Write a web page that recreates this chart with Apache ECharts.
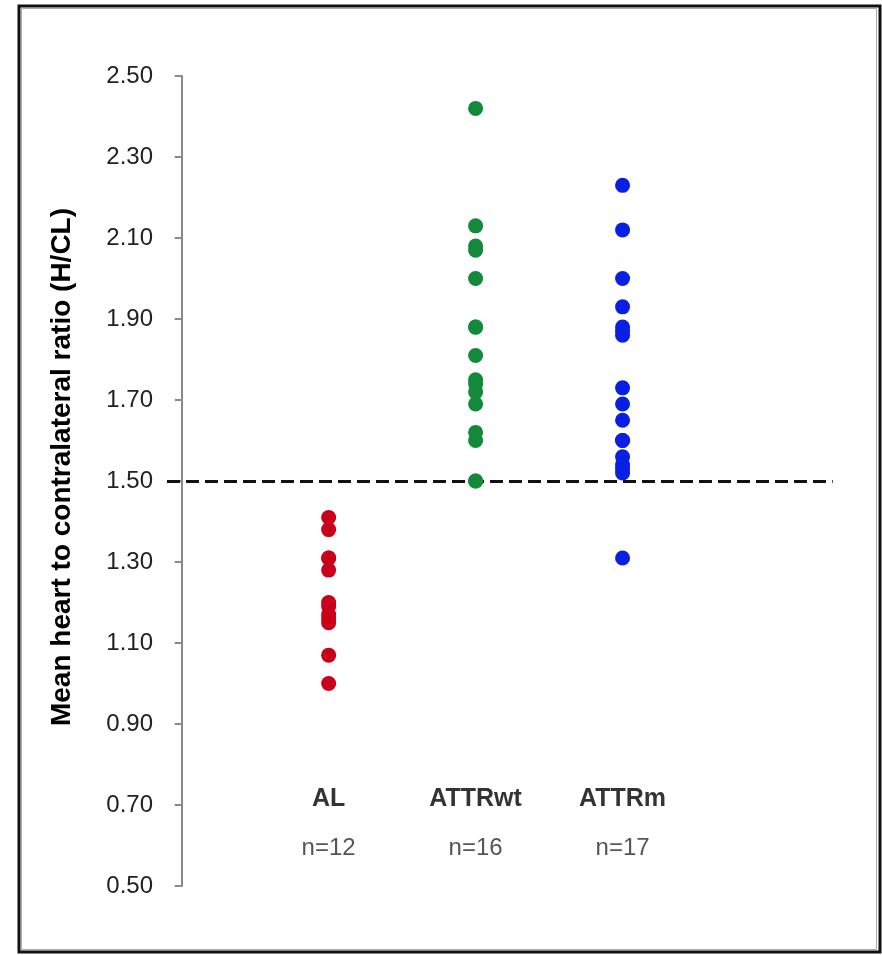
<!DOCTYPE html>
<html>
<head>
<meta charset="utf-8">
<script src="https://cdn.jsdelivr.net/npm/echarts@6/dist/echarts.min.js"></script>
<style>
  html, body { margin: 0; padding: 0; background: #fff; }
  #chart { width: 882px; height: 955px; }
</style>
</head>
<body>
<div id="chart"></div>
<script>
// Groups and their sample sizes
const categories = ['AL', 'ATTRwt', 'ATTRm'];
const sampleSizes = ['n=12', 'n=16', 'n=17'];

// Mean heart to contralateral ratio per patient
const alValues = [1.41, 1.38, 1.31, 1.31, 1.28, 1.20, 1.19, 1.17, 1.16, 1.15, 1.07, 1.00];
const attrwtValues = [2.42, 2.13, 2.08, 2.07, 2.00, 1.88, 1.88, 1.81, 1.75, 1.74, 1.72, 1.69, 1.62, 1.60, 1.50, 1.50];
const attrmValues = [2.23, 2.12, 2.00, 1.93, 1.88, 1.87, 1.86, 1.73, 1.69, 1.65, 1.60, 1.60, 1.56, 1.54, 1.53, 1.52, 1.31];

// Diagnostic cut-off
const threshold = 1.50;

// y-axis ticks
const yTicks = ['0.50', '0.70', '0.90', '1.10', '1.30', '1.50', '1.70', '1.90', '2.10', '2.30', '2.50'];

// Positions of the group names and counts in data units
const groupLabelY = 0.715;
const countLabelY = 0.592;

const groups = [alValues, attrwtValues, attrmValues];
const colors = ['#C8001A', '#14893C', '#0A1FE4'];
const font = 'Liberation Sans, Arial, sans-serif';

const chart = echarts.init(document.getElementById('chart'), null, { renderer: 'canvas' });

const pointSeries = groups.map((vals, i) => ({
  type: 'scatter',
  name: categories[i],
  symbol: 'circle',
  symbolSize: 15,
  itemStyle: { color: colors[i], opacity: 1 },
  z: 3,
  data: vals.map(v => [i + 1, v])
}));

const textSeries = [
  {
    type: 'scatter',
    symbolSize: 0,
    silent: true,
    data: categories.map((c, i) => ({ value: [i + 1, groupLabelY], name: c })),
    label: {
      show: true, position: 'inside', formatter: p => p.name,
      fontFamily: font, fontSize: 25, fontWeight: 'bold', color: '#000'
    }
  },
  {
    type: 'scatter',
    symbolSize: 0,
    silent: true,
    data: sampleSizes.map((c, i) => ({ value: [i + 1, countLabelY], name: c })),
    label: {
      show: true, position: 'inside', formatter: p => p.name,
      fontFamily: font, fontSize: 24, color: '#2a2a2a'
    }
  },
  {
    type: 'line',
    data: [],
    silent: true,
    markLine: {
      silent: true,
      symbol: 'none',
      z: 2,
      label: { show: false },
      lineStyle: { color: '#111', type: [13, 6], width: 3 },
      data: [[{ coord: [-0.1, threshold] }, { coord: [4.43, threshold] }]]
    }
  }
];

chart.setOption({
  animation: false,
  backgroundColor: '#fff',
  grid: { left: 167, right: 39, top: 76, bottom: 69 },
  xAxis: {
    type: 'value', min: -0.1, max: 4.5, show: false
  },
  yAxis: {
    type: 'value',
    min: 0.5, max: 2.5, interval: 0.2,
    name: 'Mean heart to contralateral ratio (H/CL)',
    nameLocation: 'middle',
    nameGap: 91,
    nameTextStyle: {
      fontFamily: font, fontSize: 28, fontWeight: 'bold', color: '#000',
      padding: [0, 0, 0, 28]
    },
    axisLine: { show: true, onZero: true, lineStyle: { color: '#8a8a8a', width: 2 } },
    axisTick: { show: true, inside: false, length: 7, lineStyle: { color: '#8a8a8a', width: 2 } },
    axisLabel: {
      margin: 14,
      fontFamily: font, fontSize: 24, color: '#222',
      formatter: v => yTicks.find(t => Math.abs(parseFloat(t) - v) < 1e-6) || ''
    },
    splitLine: { show: false }
  },
  graphic: [
    { type: 'rect', shape: { x: 19, y: 6, width: 861, height: 946 }, style: { fill: 'none', stroke: '#111', lineWidth: 3 }, silent: true },
    { type: 'rect', shape: { x: 21.5, y: 8.5, width: 855, height: 941 }, style: { fill: 'none', stroke: '#aaa', lineWidth: 1 }, silent: true }
  ],
  series: textSeries.concat(pointSeries)
});
</script>
</body>
</html>
